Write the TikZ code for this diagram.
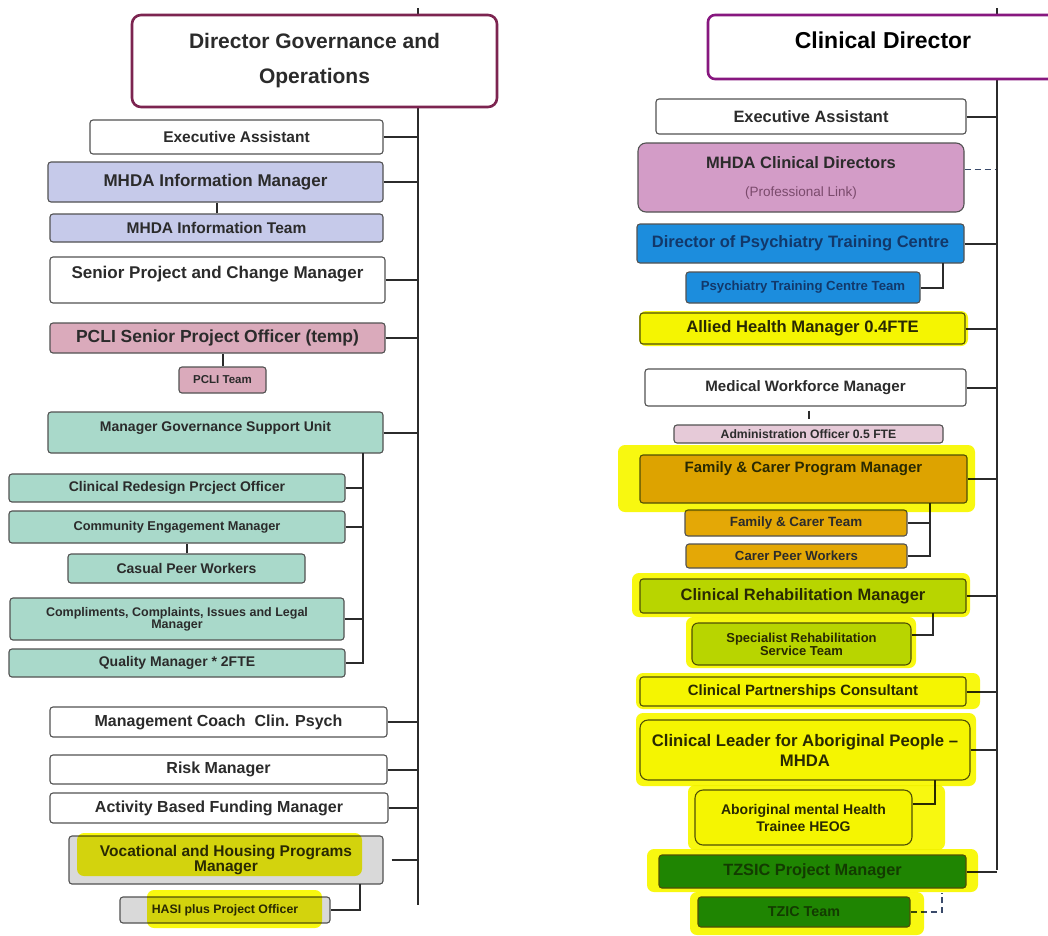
\documentclass[tikz,border=0pt]{standalone}
\usepackage{fontspec}
\setmainfont{Liberation Sans}
\usetikzlibrary{positioning,calc,backgrounds}
\definecolor{inkc}{HTML}{2B2B2B}
\definecolor{edgec}{HTML}{525252}
\definecolor{govc}{HTML}{7C2450}
\definecolor{clinc}{HTML}{87177F}
\definecolor{lavc}{HTML}{C6CAEA}
\definecolor{pnkc}{HTML}{DAAABB}
\definecolor{teac}{HTML}{A9D9CA}
\definecolor{gryc}{HTML}{D9D9D9}
\definecolor{hlc}{HTML}{F8F810}
\definecolor{mauc}{HTML}{D39CC7}
\definecolor{bluc}{HTML}{1C8DDD}
\definecolor{bltx}{HTML}{12386A}
\definecolor{yelc}{HTML}{FCFC14}
\definecolor{admc}{HTML}{E6CAD8}
\definecolor{orgc}{HTML}{E4A806}
\definecolor{limc}{HTML}{BEDC08}
\definecolor{dgrc}{HTML}{20892A}
\definecolor{dgtx}{HTML}{143D14}
\definecolor{plkc}{HTML}{7A4A6C}
\definecolor{dashc}{HTML}{3A4A6A}
\tikzset{
  blk/.style ={draw=edgec,line width=1.1pt,rounded corners=3pt,fill=white,
               inner sep=0pt,align=center,text=inkc},
  fs/.style 2 args={font=\bfseries\fontsize{#1}{#2}\selectfont},
  sz/.style 2 args={minimum width=#1pt,minimum height=#2pt},
  lav/.style ={blk,fill=lavc},
  pnk/.style ={blk,fill=pnkc},
  tea/.style ={blk,fill=teac},
  gry/.style ={blk,fill=gryc},
  mau/.style ={blk,fill=mauc,rounded corners=8pt},
  blu/.style ={blk,fill=bluc,text=bltx},
  yel/.style ={blk,fill=yelc},
  adm/.style ={blk,fill=admc},
  org/.style ={blk,fill=orgc},
  lim/.style ={blk,fill=limc},
  dgr/.style ={blk,fill=dgrc,text=dgtx},
  hdL/.style ={blk,draw=govc,line width=2.6pt,rounded corners=9pt},
  hdR/.style ={blk,draw=clinc,line width=2.6pt,rounded corners=7pt,text=black},
  ln/.style  ={draw=inkc,line width=2pt},
  dl/.style  ={draw=dashc,line width=1.6pt,dash pattern=on 6pt off 4pt},
  hl/.style  ={fill=hlc,rounded corners=7pt},
}
\begin{document}
\begin{tikzpicture}[x=1pt,y=-1pt]
\useasboundingbox[fill=white] (0,0) rectangle (1048,935);

% ---------- spines ---------------------------------------------------------
\coordinate (spL) at (418,8);  \coordinate (spLb) at (418,905);
\coordinate (spR) at (997,8);  \coordinate (spRb) at (997,870);
\draw[ln](spL)--(spLb);
\draw[ln](spR)--(spRb);

% ---------- left: governance and operations --------------------------------
\node[hdL,fs={21}{35},sz={365}{92}] (gd) at (314.5,61) {Director Governance and\\Operations};
\node[blk,fs={15.5}{18},sz={293}{34}] (eaL) at (236.5,137) {Executive Assistant};
\node[lav,fs={17}{20},sz={335}{40}] (mim) at (215.5,182) {MHDA Information Manager};
\node[lav,fs={15.5}{18},sz={333}{28}] (mit) at (216.5,228) {MHDA Information Team};
\node[blk,fs={17}{20},sz={335}{46},text depth=15pt] (spc) at (217.5,280) {Senior Project and Change Manager};
\node[pnk,fs={17.5}{20},sz={335}{30}] (pso) at (217.5,338) {PCLI Senior Project Officer (temp)};
\node[pnk,fs={11.5}{14},sz={87}{26}] (pct) at (222.5,380) {PCLI Team};
\node[tea,fs={14}{17},sz={335}{41},text depth=12pt] (gsu) at (215.5,432.5) {Manager Governance Support Unit};
\node[tea,fs={14}{17},sz={336}{28}] (crp) at (177,488) {Clinical Redesign Prcject Officer};
\node[tea,fs={12.8}{15},sz={336}{32}] (cem) at (177,527) {Community Engagement Manager};
\node[tea,fs={14}{17},sz={237}{29}] (cpw) at (186.5,568.5) {Casual Peer Workers};
\node[tea,fs={12.5}{12},sz={334}{42}] (cci) at (177,619) {Compliments, Complaints, Issues and Legal\\Manager};
\node[tea,fs={14}{17},sz={336}{28}] (qm) at (177,663) {Quality Manager * 2FTE};
\node[blk,fs={16}{19},sz={337}{30}] (mcc) at (218.5,722) {Management Coach~ Clin. Psych};
\node[blk,fs={16}{19},sz={337}{29}] (rm) at (218.5,769.5) {Risk Manager};
\node[blk,fs={16}{19},sz={338}{30}] (abf) at (219,808) {Activity Based Funding Manager};
\node[gry,fs={15.5}{15},sz={314}{48}] (vhp) at (226,860) {Vocational and Housing Programs\\Manager};
\node[gry,fs={12.3}{14},sz={210}{26}] (hasi) at (225,910) {HASI plus Project Officer};

\draw[ln](eaL)--(eaL-|spL); \draw[ln](mim)--(mim-|spL); \draw[ln](spc)--(spc-|spL);
\draw[ln](pso)--(pso-|spL); \draw[ln](gsu)--(gsu-|spL); \draw[ln](mcc)--(mcc-|spL);
\draw[ln](rm)--(rm-|spL);   \draw[ln](abf)--(abf-|spL);
\draw[ln]([xshift=8pt]vhp.east)--(vhp-|spL);
\draw[ln](mit.north)--(mit.north|-mim.south);
\draw[ln](pct.north)--(pct.north|-pso.south);
\draw[ln](cpw.north)--(cpw.north|-cem.south);
\coordinate (gsL) at (363,453);
\draw[ln](gsL)|-(qm);
\draw[ln](crp)--(crp-|gsL); \draw[ln](cem)--(cem-|gsL); \draw[ln](cci)--(cci-|gsL);
\coordinate (haL) at (360,884);
\draw[ln](haL)|-(hasi);

% ---------- right: clinical director ---------------------------------------
\node[hdR,fs={23}{27},sz={350}{64},text depth=14pt] (cd) at (883,47) {Clinical Director};
\node[blk,fs={16.4}{19},sz={310}{35}] (eaR) at (811,116.5) {Executive Assistant};
\node[mau,fs={16.5}{19},sz={326}{69}] (mcd) at (801,177.5)
  {MHDA Clinical Directors\\[9pt]{\mdseries\fontsize{13.5}{16}\selectfont\color{plkc}(Professional Link)}};
\node[blu,fs={16.5}{19},sz={327}{39}] (dpt) at (800.5,243.5) {Director of Psychiatry Training Centre};
\node[blu,fs={13.2}{16},sz={234}{31}] (ptt) at (803,287.5) {Psychiatry Training Centre Team};
\node[yel,fs={16.6}{19},sz={325}{31}] (ahm) at (802.5,328.5) {Allied Health Manager 0.4FTE};
\node[blk,fs={15.1}{18},sz={321}{37}] (mwm) at (805.5,387.5) {Medical Workforce Manager};
\node[adm,fs={12.2}{14},sz={269}{18}] (ado) at (808.5,434) {Administration Officer 0.5 FTE};
\node[org,fs={15}{18},sz={327}{48},text depth=23pt] (fcp) at (803.5,479) {Family \& Carer Program Manager};
\node[org,fs={13.4}{16},sz={222}{26}] (fct) at (796,523) {Family \& Carer Team};
\node[org,fs={13.2}{16},sz={221}{24}] (cpr) at (796.5,556) {Carer Peer Workers};
\node[lim,fs={16.5}{19},sz={326}{34}] (crm) at (803,596) {Clinical Rehabilitation Manager};
\node[lim,fs={13}{13},sz={219}{42},rounded corners=6pt] (srt) at (801.5,644) {Specialist Rehabilitation\\Service Team};
\node[yel,fs={14.9}{18},sz={326}{29}] (cpc) at (803,691.5) {Clinical Partnerships Consultant};
\node[yel,fs={16.7}{20},sz={330}{60},rounded corners=8pt] (cla) at (805,750) {Clinical Leader for Aboriginal People --\\MHDA};
\node[yel,fs={14}{17},sz={217}{55},rounded corners=8pt] (amh) at (803.5,817.5) {Aboriginal mental Health\\Trainee HEOG};
\node[dgr,fs={16.3}{19},sz={307}{33}] (tzp) at (812.5,871.5) {TZSIC Project Manager};
\node[dgr,fs={14.3}{17},sz={212}{30}] (tzt) at (804,912) {TZIC Team};

\draw[ln](eaR)--(eaR-|spR); \draw[ln](dpt)--(dpt-|spR); \draw[ln](ahm)--(ahm-|spR);
\draw[ln](mwm)--(mwm-|spR); \draw[ln](fcp)--(fcp-|spR); \draw[ln](crm)--(crm-|spR);
\draw[ln](cpc)--(cpc-|spR); \draw[ln](cla)--(cla-|spR); \draw[ln](tzp)--(tzp-|spR);
\draw[dl]([yshift=8pt]mcd.east)--($(mcd.east)+(31,-8)$);
\draw[ln]($(mwm.south-|ado.north)+(0,4)$)--($(ado.north)+(0,-5)$);
\coordinate (ptL) at (943,263); \draw[ln](ptL)|-(ptt);
\coordinate (fcL) at (930,503); \draw[ln](fcL)|-(cpr); \draw[ln](fct)--(fct-|fcL);
\coordinate (srL) at (933,613); \draw[ln](srL)|-([yshift=9pt]srt.east);
\coordinate (amL) at (935,780); \draw[ln](amL)|-([yshift=14pt]amh.east);
\coordinate (tzL) at (942,893); \draw[dl](tzt)-|(tzL);

% ---------- highlighter marks ----------------------------------------------
\begin{scope}[blend mode=multiply]
  \fill[hl] (77,833) rectangle (362,876);
  \fill[hl] (147,890) rectangle (322,928);
  \fill[hl] (639,311) rectangle (968,346);
  \fill[hl] (618,445) rectangle (975,512);
  \fill[hl] (632,573) rectangle (970,617);
  \fill[hl] (686,617) rectangle (916,668);
  \fill[hl] (636,673) rectangle (980,709);
  \fill[hl] (636,713) rectangle (976,786);
  \fill[hl] (688,785) rectangle (945,850);
  \fill[hl] (647,849) rectangle (978,892);
  \fill[hl] (690,892) rectangle (924,935);
\end{scope}
\end{tikzpicture}
\end{document}
